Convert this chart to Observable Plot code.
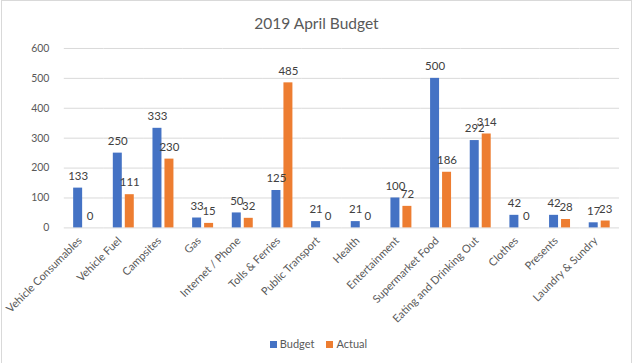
<!DOCTYPE html>
<html>
<head>
<meta charset="utf-8">
<script src="https://cdn.jsdelivr.net/npm/d3@7"></script>
<script src="https://cdn.jsdelivr.net/npm/@observablehq/plot@0.6"></script>
<style>
  html, body { margin: 0; padding: 0; background: #fff; }
  #frame { position: relative; width: 631px; height: 363px; margin-left: 1px; box-sizing: border-box;
           border: 1px solid #d9d9d9; border-bottom: none; font-family: Lato, "Open Sans", sans-serif; overflow: hidden; }
  #title { height: 35px; line-height: 44px; text-align: center; font-size: 15.5px; color: #595959; }
  #chart svg { display: block; }
  #legend { text-align: center; font-size: 11px; color: #595959; margin-top: 7px; margin-left: 4px; }
  #legend span.sw { display: inline-block; width: 7px; height: 7px; margin-right: 3px; vertical-align: 0px; }
  #legend span.item { margin: 0 6px; }
</style>
</head>
<body>
<div id="frame">
  <div id="title">2019 April Budget</div>
  <div id="chart"></div>
  <div id="legend"></div>
</div>
<script>
const categories = ["Vehicle Consumables","Vehicle Fuel","Campsites","Gas","Internet / Phone","Tolls & Ferries","Public Transport","Health","Entertainment","Supermarket Food","Eating and Drinking Out","Clothes","Presents","Laundry & Sundry"];
const series = ["Budget", "Actual"];
const budget = [133,250,333,33,50,125,21,21,100,500,292,42,42,17];
const actual = [0,111,230,15,32,485,0,0,72,186,314,0,28,23];
const yTicks = [0,100,200,300,400,500,600];
const colors = ["#4472C4", "#ED7D31"];

const rows = [];
categories.forEach((c, i) => {
  rows.push({category: c, series: "Budget", value: budget[i]});
  rows.push({category: c, series: "Actual", value: actual[i]});
});

const chart = Plot.plot({
  width: 631,
  height: 295,
  marginTop: 12,
  marginLeft: 62,
  marginRight: 12,
  marginBottom: 103,
  style: {fontFamily: "Lato, 'Open Sans', sans-serif", fontSize: "10.5px", color: "#595959", background: "transparent"},
  fx: {domain: categories, padding: 0, round: false, label: null},
  x: {domain: series, axis: null, paddingInner: 0.25, paddingOuter: 0.78, round: false},
  y: {domain: [0, 600], ticks: yTicks, tickSize: 0, tickPadding: 15, label: null},
  color: {domain: series, range: colors},
  marks: [
    Plot.axisFx({anchor: "bottom", tickRotate: -45, tickSize: 0, tickPadding: 11, dx: -4, fill: "#595959",
                 fontSize: 11, label: null}),
    Plot.ruleY(yTicks, {stroke: "#d9d9d9", strokeWidth: 1}),
    Plot.barY(rows, {fx: "category", x: "series", y: "value", fill: "series"}),
    Plot.text(rows, {fx: "category", x: "series", y: "value", text: d => String(d.value), dy: -12,
                     fill: "#404040", fontSize: 11.5})
  ]
});
document.getElementById("chart").appendChild(chart);

const legend = document.getElementById("legend");
series.forEach((s, i) => {
  const item = document.createElement("span");
  item.className = "item";
  const sw = document.createElement("span");
  sw.className = "sw";
  sw.style.background = colors[i];
  item.appendChild(sw);
  item.appendChild(document.createTextNode(s));
  legend.appendChild(item);
});
</script>
</body>
</html>
